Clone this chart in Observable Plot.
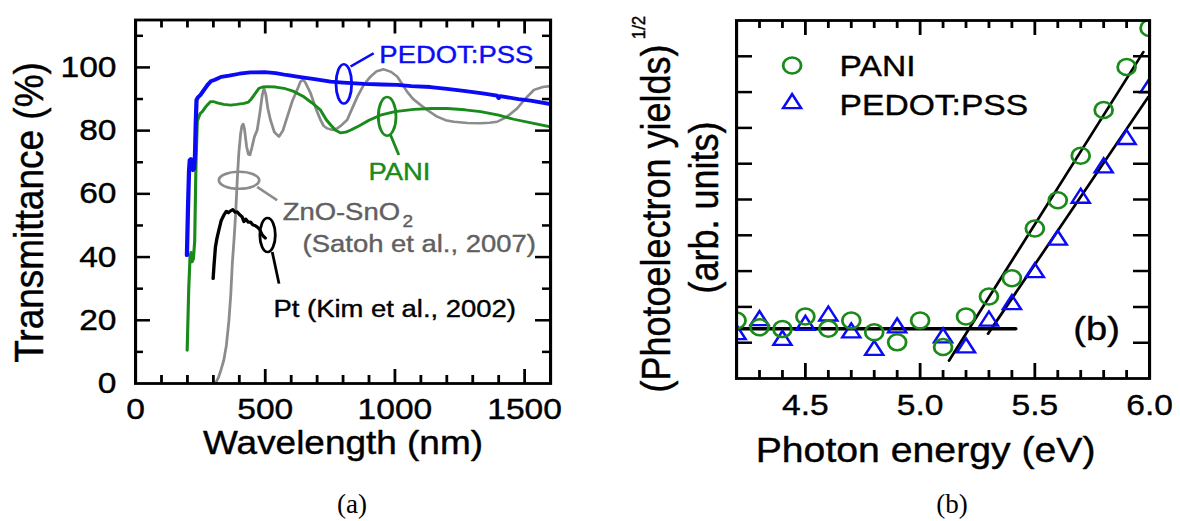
<!DOCTYPE html>
<html><head><meta charset="utf-8">
<script src="https://cdn.jsdelivr.net/npm/d3@7"></script>
<script src="https://cdn.jsdelivr.net/npm/@observablehq/plot@0.6"></script>
<style>
body{margin:0;background:#fff;width:1180px;height:521px;overflow:hidden;position:relative;font-family:'Liberation Sans',Arial,sans-serif}
.panel{position:absolute;top:0;width:520px;transform:scaleX(1.12);transform-origin:0 0}
.panel svg{max-width:none}
.cap{position:absolute;top:489px;width:100px;text-align:center;font-family:'Liberation Serif','Times New Roman',serif;font-size:27px;line-height:30px;color:#000}
</style></head><body>
<div id="pa" class="panel" style="left:0"></div>
<div id="pb" class="panel" style="left:590px"></div>
<div class="cap" style="left:302px">(a)</div>
<div class="cap" style="left:902px">(b)</div>
<script>
// ---------- Panel (a): transmittance spectra ----------
const pedotWl = [198,202,206,209,213,217,221,225,229,232,235,240,250,265,278,290,306,330,361,400,443,498,540,581,623,690,752,801,880,950,1009,1063,1137,1201,1265,1338,1394,1400,1406,1476,1523,1600];
const pedotT  = [40.6,55,67,70.7,71,68,67.5,68,72,82,89.7,90.5,91.3,93,94.5,95.6,96.1,97,97.4,98,98.4,98.5,98.2,97.6,97.1,96.3,95.5,95.2,94.8,94.6,94.5,94.1,93.8,93.2,92.6,91.8,91.1,90.3,90.9,90,89.5,88.4];
const paniWl = [199,205,210,214,218,223,228,233,238,244,250,257,270,289,300,315,340,366,390,418,435,443,455,476,490,508,540,572,610,649,680,713,735,752,770,790,810,830,855,900,944,1000,1073,1140,1202,1270,1330,1400,1458,1530,1600];
const paniT  = [10.5,30,40,41.5,38.5,39.5,45,70,83,84.4,85.5,86,87.5,89.2,89.2,88.8,88.3,88.1,88.3,88.6,89,89.7,91,93.4,93.8,93.9,93.8,93.4,92.4,90.7,88.8,86.5,83.5,81.8,80.2,79.3,79.5,80.2,81.2,83.3,84.9,86,86.7,87,87,86.6,86,84.9,83.6,82.4,81.2];
const znoWl = [308,320,330,340,350,360,367,373,380,386,392,398,405,410,415,420,428,435,441,448,458,469,480,488,495,502,510,520,535,553,568,585,605,623,636,646,656,675,695,713,725,739,760,777,795,816,835,855,880,906,930,957,985,1009,1030,1047,1070,1099,1130,1163,1195,1227,1280,1330,1365,1394,1430,1471,1505,1536,1570,1600];
const znoT  = [0,2,4.5,7.3,12,20,28,37.9,46,53.8,64.3,72.8,79,81.5,82.1,80.5,75,72.5,72.3,74.5,78,80.2,86,91,93.4,91.5,87,83.4,79.5,78.1,80,84.4,89.5,92.9,95.5,96.2,95,91.8,87,83.4,81.5,80.7,80.2,80.7,81.8,83.4,87,90.7,94.5,97.1,98.8,99.4,98.6,97.1,94.5,92.3,90,88.1,86.2,84.4,83.3,82.8,82.4,82.3,82.5,82.8,84.3,87,90.3,92.9,93.8,94.1];
const ptWl = [299,303,308,314,321,330,340,350,358,366,375,384,392,400,411,418,425,435,443,452,460,469,478,487,495,500];
const ptT  = [33.2,38,43.2,46,48.5,51.5,53.2,54.5,54,54.6,55,54.2,54.3,53.5,52.7,51.2,52,51,51.1,50.2,50,49.5,48.8,47.2,46.4,46];

const aXLabels = [0,500,1000,1500];
const aYLabels = [0,20,40,60,80,100];
const aXMajor = [500,1000,1500];
const aXMinor = [100,200,300,400,600,700,800,900,1100,1200,1300,1400];
const aYMajor = [20,40,60,80,100];
const aYMinor = [10,30,50,70,90,110];

// annotations (text, anchor point in data units)
const annText = ["PEDOT:PSS","PANI","ZnO-SnO","(Satoh et al., 2007)","Pt (Kim et al., 2002)"];
const annWl   = [940,898,567,644,532];
const annT    = [101.4,64.3,51.7,41.6,20.9];
const ellWl = [803,970,399,509];
const ellT  = [94.8,84.5,64.3,47];
const linkWl1 = [829,983,469,527], linkT1 = [100.3,78.6,62.2,41.6];
const linkWl2 = [918,1015,546,553], linkT2 = [104.5,72.3,58,31.6];

// ---------- Panel (b): photoelectron yield ----------
const paniE = [4.2,4.3,4.4,4.5,4.6,4.7,4.8,4.9,5.0,5.1,5.2,5.3,5.4,5.5,5.6,5.7,5.8,5.9,6.0];
const paniY = [1.62,1.43,1.38,1.73,1.39,1.62,1.29,1.01,1.62,0.88,1.73,2.29,2.8,4.19,4.98,6.22,7.5,8.7,9.79];
const pedotE = [4.2,4.3,4.4,4.5,4.6,4.7,4.8,4.9,5.1,5.2,5.3,5.4,5.5,5.6,5.7,5.8,5.9,6.0];
const pedotY = [1.23,1.62,1.07,1.49,1.75,1.28,0.79,1.42,1.14,0.86,1.61,2.07,2.96,3.87,5.04,5.89,6.68,8.12];
const baseE = [4.2,5.416], baseY = [1.39,1.39];
const fitPaniE = [5.126,5.973], fitPaniY = [0.5,9.12];
const fitPedotE = [5.296,5.994], fitPedotY = [1.25,7.86];
const bXLabels = [4.5,5.0,5.5,6.0];
const bXMajor = [4.5,5.0,5.5];
const bXMinor = [4.3,4.4,4.6,4.7,4.8,4.9,5.1,5.2,5.3,5.4,5.6,5.7,5.8,5.9];
const bYTicks = [1,2,3,4,5,6,7,8,9];

// ---------- helpers ----------
const S = 1.12;              // horizontal stretch of the reference
const BLUE = "#0a0af5", GREEN = "#1a8a1a", GRAY = "#8c8c8c", GRAYTXT = "#606060";
const FONT = "'Liberation Sans', Arial, Helvetica, sans-serif";
const TSW = 0.4;             // slight text weight
const zip = (xs, ys, kx, ky) => xs.map((x, i) => ({[kx]: x, [ky]: ys[i]}));
const ellipse = (rx, ry) => ({draw(ctx) {
  const k = 0.5523;
  ctx.moveTo(rx, 0);
  ctx.bezierCurveTo(rx, ry * k, rx * k, ry, 0, ry);
  ctx.bezierCurveTo(-rx * k, ry, -rx, ry * k, -rx, 0);
  ctx.bezierCurveTo(-rx, -ry * k, -rx * k, -ry, 0, -ry);
  ctx.bezierCurveTo(rx * k, -ry, rx, -ry * k, rx, 0);
  ctx.closePath();
}});
function tickMarks(iw, ih, xs, ys) {
  const m = [];
  for (const [v, L] of xs) {
    m.push(Plot.tickX(v, {x: d => d, insetTop: ih - L, stroke: "black", strokeWidth: 2.5}));
    m.push(Plot.tickX(v, {x: d => d, insetBottom: ih - L, stroke: "black", strokeWidth: 2.5}));
  }
  for (const [v, L] of ys) {
    m.push(Plot.tickY(v, {y: d => d, insetRight: iw - L, stroke: "black", strokeWidth: 2.5}));
    m.push(Plot.tickY(v, {y: d => d, insetLeft: iw - L, stroke: "black", strokeWidth: 2.5}));
  }
  return m;
}
const txt = (s, o) => Plot.text([s], {text: d => d, fill: "black", stroke: "black", strokeWidth: TSW, ...o});
const W = 520, H = 500;

// ---------- Panel (a) ----------
{
  const mL = 135 / S, mR = W - 550 / S, mT = 19.5, mB = H - 383;
  const iw = W - mL - mR, ih = H - mT - mB;
  const ell = [ellipse(7, 19.7), ellipse(7.9, 19.3), ellipse(18, 8.5), ellipse(6.9, 17)];
  const ellCol = [BLUE, GREEN, GRAY, "black"];
  const linkCol = [BLUE, GREEN, GRAY, "black"];
  const annCol = [BLUE, GREEN, GRAYTXT, GRAYTXT, "black"];
  const chart = Plot.plot({
    width: W, height: H, marginLeft: mL, marginRight: mR, marginTop: mT, marginBottom: mB,
    style: {fontFamily: FONT, background: "transparent", color: "black"},
    x: {domain: [0, 1600]},
    y: {domain: [0, 115]},
    marks: [
      Plot.line(zip(znoWl, znoT, "wl", "t"), {x: "wl", y: "t", stroke: GRAY, strokeWidth: 2.5, clip: true}),
      Plot.line(zip(ptWl, ptT, "wl", "t"), {x: "wl", y: "t", stroke: "black", strokeWidth: 3, clip: true}),
      Plot.line(zip(paniWl, paniT, "wl", "t"), {x: "wl", y: "t", stroke: GREEN, strokeWidth: 2.8, clip: true}),
      Plot.line(zip(pedotWl, pedotT, "wl", "t"), {x: "wl", y: "t", stroke: BLUE, strokeWidth: 3.8, clip: true}),
      ...ell.map((sym, i) => Plot.dot([i], {x: () => ellWl[i], y: () => ellT[i], symbol: sym, fill: "none", stroke: ellCol[i], strokeWidth: 2.5})),
      ...linkCol.map((c, i) => Plot.link([i], {x1: () => linkWl1[i], y1: () => linkT1[i], x2: () => linkWl2[i], y2: () => linkT2[i], stroke: c, strokeWidth: 2.5})),
      Plot.text(annText.map((t, i) => i), {x: i => annWl[i], y: i => annT[i], text: i => annText[i], fill: i => annCol[i],
        stroke: i => annCol[i], strokeWidth: TSW, textAnchor: "start", lineAnchor: "bottom", fontSize: 24.5}),
      Plot.text(["2"], {x: () => 1029, y: () => 49.4, text: d => d, fill: GRAYTXT, stroke: GRAYTXT, strokeWidth: TSW, textAnchor: "start", lineAnchor: "bottom", fontSize: 17}),
      Plot.frame({stroke: "black", strokeWidth: 2.8}),
      ...tickMarks(iw, ih, [[aXMajor, 14], [aXMinor, 8]], [[aYMajor, 15 / S], [aYMinor, 8 / S]]),
      Plot.axisX(aXLabels, {tickSize: 0, tickPadding: 14, fontSize: 30, tickFormat: d3.format("d"), label: null, textStroke: "black", textStrokeWidth: TSW}),
      Plot.axisY(aYLabels, {tickSize: 0, tickPadding: 17, fontSize: 30, tickFormat: d3.format("d"), label: null, textStroke: "black", textStrokeWidth: TSW}),
      txt("Wavelength (nm)", {frameAnchor: "bottom", textAnchor: "middle", lineAnchor: "top", dy: 47, fontSize: 33}),
      txt("Transmittance (%)", {frameAnchor: "left", rotate: -90, textAnchor: "middle", lineAnchor: "middle", dx: -94.6, dy: 10.75, fontSize: 37})
    ]
  });
  document.getElementById("pa").appendChild(chart);
}

// ---------- Panel (b) ----------
{
  const mL = 146 / S, mR = W - 559 / S, mT = 20, mB = H - 378;
  const iw = W - mL - mR, ih = H - mT - mB;
  const chart = Plot.plot({
    width: W, height: H, marginLeft: mL, marginRight: mR, marginTop: mT, marginBottom: mB,
    style: {fontFamily: FONT, background: "transparent", color: "black"},
    x: {domain: [4.2, 6.0]},
    y: {domain: [0, 10], axis: null},
    marks: [
      Plot.line(zip(baseE, baseY, "e", "v"), {x: "e", y: "v", stroke: "black", strokeWidth: 3.5, clip: true}),
      Plot.line(zip(fitPaniE, fitPaniY, "e", "v"), {x: "e", y: "v", stroke: "black", strokeWidth: 2.5, clip: true}),
      Plot.line(zip(fitPedotE, fitPedotY, "e", "v"), {x: "e", y: "v", stroke: "black", strokeWidth: 2.5, clip: true}),
      Plot.dot(zip(pedotE, pedotY, "e", "v"), {x: "e", y: "v", symbol: "triangle", r: 6, fill: "none", stroke: BLUE, strokeWidth: 2.3, clip: true}),
      Plot.dot(zip(paniE, paniY, "e", "v"), {x: "e", y: "v", r: 8, fill: "none", stroke: GREEN, strokeWidth: 2.5, clip: true}),
      Plot.frame({stroke: "black", strokeWidth: 2.8}),
      ...tickMarks(iw, ih, [[bXMajor, 15], [bXMinor, 8]], [[bYTicks, 16 / S]]),
      Plot.axisX(bXLabels, {tickSize: 0, tickPadding: 15, fontSize: 30, tickFormat: d3.format(".1f"), label: null, textStroke: "black", textStrokeWidth: TSW}),
      // legend
      Plot.dot(["PANI"], {frameAnchor: "top-left", dx: 49.6, dy: 45, r: 8, fill: "none", stroke: GREEN, strokeWidth: 2.5}),
      Plot.dot(["PEDOT:PSS"], {frameAnchor: "top-left", dx: 49.6, dy: 83, symbol: "triangle", r: 6, fill: "none", stroke: BLUE, strokeWidth: 2.3}),
      txt("PANI", {frameAnchor: "top-left", dx: 92, dy: 45.5, textAnchor: "start", lineAnchor: "middle", fontSize: 30}),
      txt("PEDOT:PSS", {frameAnchor: "top-left", dx: 92, dy: 84.5, textAnchor: "start", lineAnchor: "middle", fontSize: 30}),
      txt("(b)", {frameAnchor: "bottom-right", dx: -47.3, dy: -49, textAnchor: "middle", lineAnchor: "middle", fontSize: 34}),
      txt("Photon energy (eV)", {frameAnchor: "bottom", textAnchor: "middle", lineAnchor: "top", dx: -15.6, dy: 59, fontSize: 35}),
      txt("(Photoelectron yields)", {frameAnchor: "left", rotate: -90, textAnchor: "middle", lineAnchor: "middle", dx: -71, dy: 19, fontSize: 36}),
      txt("1/2", {frameAnchor: "left", rotate: -90, textAnchor: "middle", lineAnchor: "middle", dx: -87.5, dy: -172, fontSize: 17}),
      txt("(arb. units)", {frameAnchor: "left", rotate: -90, textAnchor: "middle", lineAnchor: "middle", dx: -28.1, dy: 8, fontSize: 36})
    ]
  });
  document.getElementById("pb").appendChild(chart);
}
</script>
</body></html>
